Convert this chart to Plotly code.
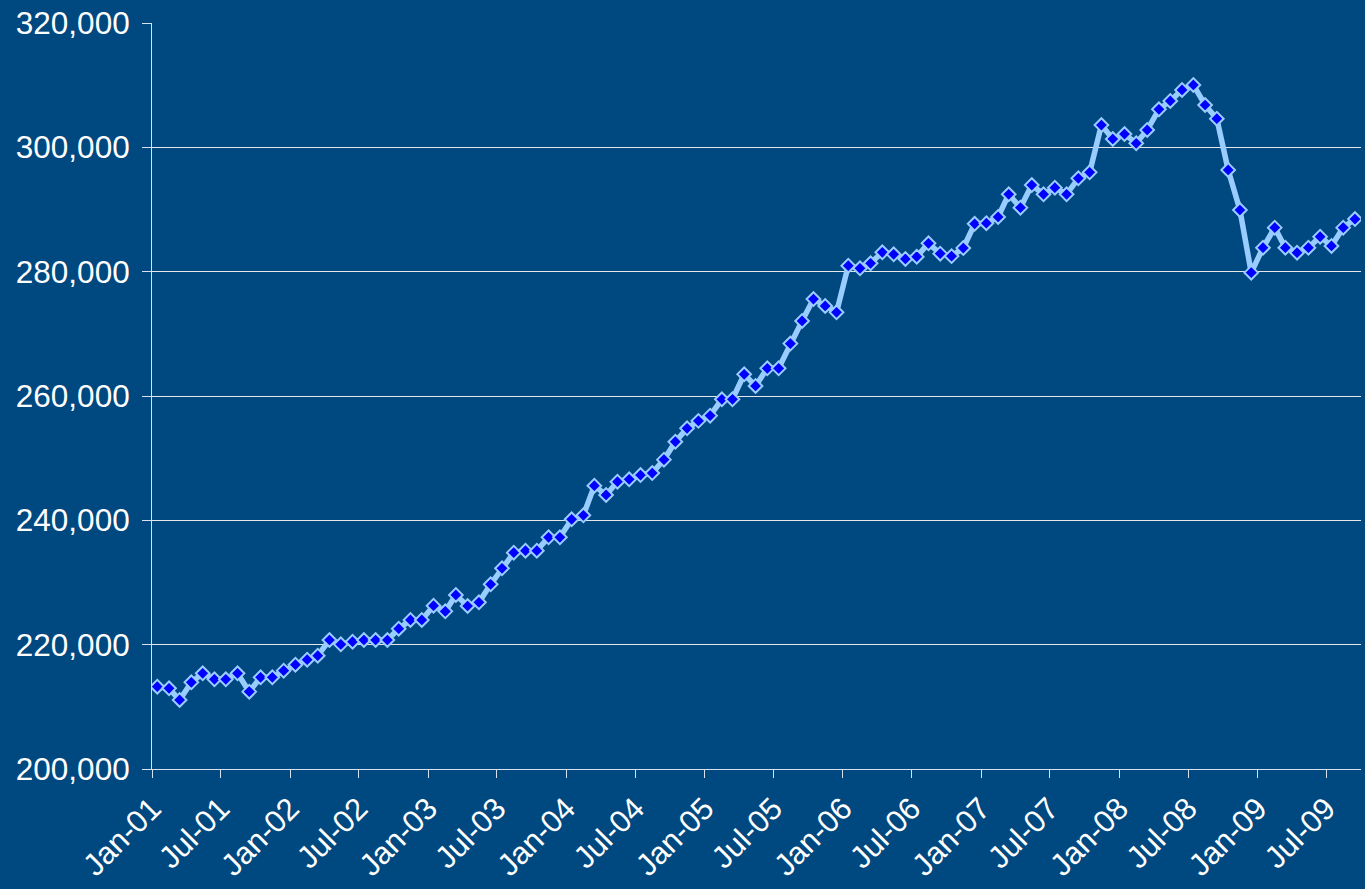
import pandas as pd
import plotly.graph_objects as go

# Monthly categories Jan-01 .. Sep-09
months = pd.date_range("2001-01-01", periods=105, freq="MS")

values = [
    213240, 212980, 211100, 213950, 215400, 214430, 214430, 215400, 212440, 214750,
    214750, 215820, 216780, 217580, 218230, 220750, 220050, 220480, 220750, 220750,
    220750, 222570, 223970, 223970, 226270, 225360, 228000, 226220, 226810, 229710,
    232280, 234800, 235120, 235120, 237270, 237270, 240170, 240810, 245570, 244080,
    246220, 246600, 247290, 247610, 249760, 252650, 254800, 256000, 256840, 259470,
    259470, 263490, 261610, 264450, 264450, 268430, 272070, 275600, 274480, 273460,
    280960, 280540, 281350, 283120, 282800, 282040, 282410, 284560, 282900, 282500,
    283800, 287700, 287800, 288800, 292450, 290300, 293940, 292450, 293510, 292450,
    295020, 295980, 303590, 301340, 302140, 300650, 302790, 306120, 307460, 309230,
    310030, 306810, 304610, 296360, 289920, 279840, 283860, 287080, 283860, 283050,
    283860, 285630, 284130, 287080, 288470,
]

y_ticks = [200000, 220000, 240000, 260000, 280000, 300000, 320000]

BG = "#004880"
AXIS = "#D8E2EE"

# points sit in the middle of each month
x = months + pd.Timedelta(days=14)

fig = go.Figure()
fig.add_trace(go.Scatter(
    x=x, y=values, mode="lines+markers",
    line=dict(color="#99CCFF", width=5.5),
    marker=dict(symbol="diamond", size=10.5, color="#0000FF",
                line=dict(color="#99CCFF", width=2)),
    showlegend=False, hoverinfo="x+y",
))

fig.update_layout(
    width=1365, height=889,
    margin=dict(l=152, r=4, t=23, b=120),
    paper_bgcolor=BG, plot_bgcolor=BG,
    font=dict(family="Liberation Sans, Arial, sans-serif", color="white"),
)
fig.update_xaxes(
    type="date", automargin=False,
    range=["2001-01-01", "2009-10-01"],
    tick0="2001-01-01", dtick="M6", tickformat="%b-%y",
    tickangle=-45, tickfont=dict(size=31, color="white"),
    ticks="outside", ticklen=8, tickcolor=AXIS, tickwidth=1,
    showline=True, linecolor=AXIS, linewidth=1,
    showgrid=False, zeroline=False,
)
fig.update_yaxes(
    automargin=False,
    range=[200000, 320000],
    tickvals=y_ticks, tickformat=",d",
    tickfont=dict(size=31.5, color="white"),
    ticks="outside", ticklen=9, tickcolor=AXIS, tickwidth=1,
    ticklabelstandoff=6,
    showline=True, linecolor=AXIS, linewidth=1,
    showgrid=True, gridcolor="#E6E6E6", gridwidth=1,
    zeroline=False,
)

fig.write_html(
    "out.html",
    config={"displayModeBar": False},
    post_script="document.body.style.margin='0';document.body.style.background='" + BG + "';",
)
